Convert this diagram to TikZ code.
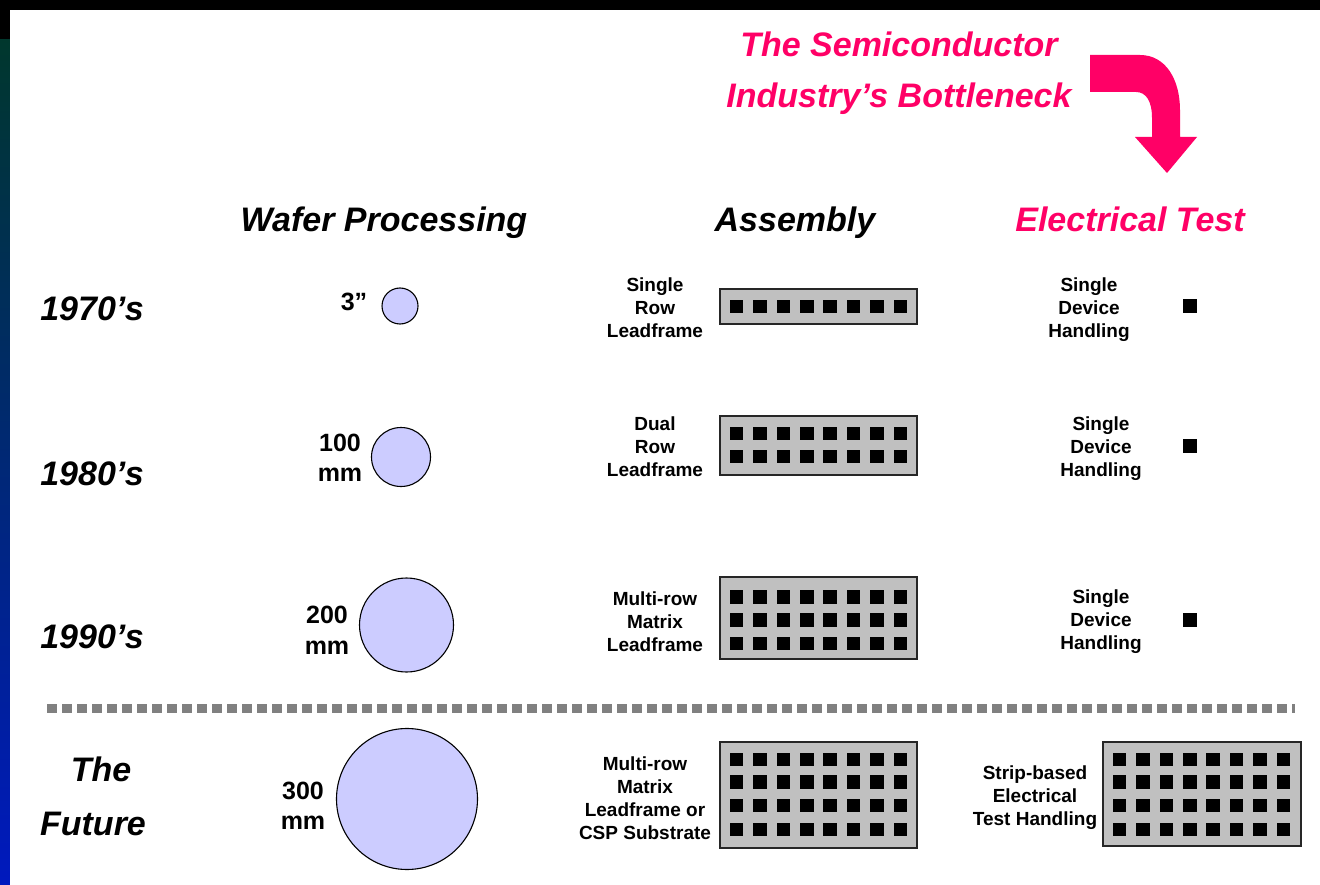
\documentclass[tikz,border=0pt]{standalone}
\usepackage{fontspec}
\setmainfont{Liberation Sans}
\definecolor{hot}{RGB}{255,0,102}
\definecolor{wafer}{RGB}{204,204,255}
\definecolor{stripgray}{RGB}{192,192,192}
\definecolor{sepgray}{RGB}{128,128,128}
\definecolor{edgetop}{RGB}{0,55,45}
\definecolor{edgemid}{RGB}{0,85,105}
\definecolor{edgebot}{RGB}{0,25,190}
\begin{document}
\begin{tikzpicture}[x=1pt,y=-1pt,
  hdr/.style={font=\fontsize{34}{40}\selectfont\bfseries\itshape, inner sep=0pt},
  lbl/.style={font=\fontsize{19}{23}\selectfont\bfseries, align=center, inner sep=0pt},
  wlbl/.style={font=\fontsize{25}{30.5}\selectfont\bfseries, align=center, inner sep=0pt},
  waferdisc/.style={circle, draw=black, line width=1.1pt, fill=wafer, inner sep=0pt},
  stripbox/.style={rectangle, draw=black!85, line width=1.8pt, fill=stripgray, inner sep=0pt, minimum width=197pt},
  die/.style={fill=black},
  seprule/.style={draw=sepgray, line width=9pt, dash pattern=on 10pt off 5pt}
]
\useasboundingbox (0,0) rectangle (1320,885);
% frame
\fill[black] (0,0) rectangle (1320,885);
\shade[top color=edgetop, middle color=edgemid, bottom color=edgebot] (0,40) rectangle (10,885);
\fill[white] (10,10) rectangle (1320,885);

% title and arrow
\node[hdr, text=hot, align=center, font=\fontsize{34}{51}\selectfont\bfseries\itshape] (title) at (899,73.5) {The Semiconductor\\Industry’s Bottleneck};
\fill[hot] (1090,55) -- (1140,55) .. controls (1166,55) and (1180,80) .. (1180,110) -- (1180,137) -- (1197,137) -- (1167,173) -- (1135,137) -- (1152,137) -- (1152,118) .. controls (1152,101) and (1146,92) .. (1136,92) -- (1090,92) -- cycle;

% column headers
\node[hdr, anchor=base] (hwafer) at (384,232) {Wafer Processing};
\node[hdr, anchor=base] (hasm) at (795,232) {Assembly};
\node[hdr, anchor=base, text=hot] (htest) at (1130,232) {Electrical Test};

% row labels
\node[hdr, anchor=base] (r70) at (92,321) {1970’s};
\node[hdr, anchor=base] (r80) at (92,485) {1980’s};
\node[hdr, anchor=base] (r90) at (92,648) {1990’s};
\node[hdr, anchor=base] (rthe) at (101,781) {The};
\node[hdr, anchor=base] (rfut) at (93,835) {Future};

% wafers
\node[waferdisc, minimum size=36pt] (w70) at (400,306) {};
\node[waferdisc, minimum size=59pt] (w80) at (401,457) {};
\node[waferdisc, minimum size=94pt] (w90) at (406.5,625) {};
\node[waferdisc, minimum size=141pt] (w00) at (407,799) {};
\node[wlbl] (lw70) at (354,302) {3”};
\node[wlbl] (lw80) at (340,458) {100\\mm};
\node[wlbl] (lw90) at (327,630.5) {200\\mm};
\node[wlbl] (lw00) at (303,806) {300\\mm};

% assembly strips
\node[stripbox, minimum height=35pt] (a70) at (818.5,306.5) {};
\node[stripbox, minimum height=59pt] (a80) at (818.5,445.5) {};
\node[stripbox, minimum height=82pt] (a90) at (818.5,618) {};
\node[stripbox, minimum height=106pt] (a00) at (818.5,795) {};
\node[stripbox, minimum height=104pt, minimum width=198pt] (t00) at (1202,794) {};

\foreach \yy in {306.5}{\foreach \i in {0,...,7}{\fill[die] ({736.5+23.43*\i-6.75},{\yy-6.75}) rectangle +(13.5,13.5);}}
\foreach \yy in {433.5,456.5}{\foreach \i in {0,...,7}{\fill[die] ({736.5+23.43*\i-6.75},{\yy-6.75}) rectangle +(13.5,13.5);}}
\foreach \yy in {597,620,643.5}{\foreach \i in {0,...,7}{\fill[die] ({736.5+23.43*\i-6.75},{\yy-6.75}) rectangle +(13.5,13.5);}}
\foreach \yy in {759.5,782,805.5,829.5}{\foreach \i in {0,...,7}{\fill[die] ({736.5+23.43*\i-6.75},{\yy-6.75}) rectangle +(13.5,13.5);}}
\foreach \yy in {759.5,782,805.5,829.5}{\foreach \i in {0,...,7}{\fill[die] ({1119.5+23.43*\i-6.75},{\yy-6.75}) rectangle +(13.5,13.5);}}

\node[lbl] (la70) at (655,308) {Single\\Row\\Leadframe};
\node[lbl] (la80) at (655,446.5) {Dual\\Row\\Leadframe};
\node[lbl] (la90) at (655,621.5) {Multi-row\\Matrix\\Leadframe};
\node[lbl] (la00) at (645,798) {Multi-row\\Matrix\\Leadframe or\\CSP Substrate};

% electrical test
\node[rectangle, fill=black, minimum size=14pt, inner sep=0pt] (t70) at (1190,306) {};
\node[rectangle, fill=black, minimum size=14pt, inner sep=0pt] (t80) at (1190,446) {};
\node[rectangle, fill=black, minimum size=14pt, inner sep=0pt] (t90) at (1190,620) {};
\node[lbl] (lt70) at (1089,309.5) {Single\\Device\\Handling};
\node[lbl] (lt80) at (1101,448.5) {Single\\Device\\Handling};
\node[lbl] (lt90) at (1101,621.5) {Single\\Device\\Handling};
\node[lbl] (lt00) at (1035,797.5) {Strip-based\\Electrical\\Test Handling};

% separator
\coordinate (sepL) at (47,708);
\coordinate (sepR) at (1295,708);
\draw[seprule] (sepL) -- (sepR);
\end{tikzpicture}
\end{document}
